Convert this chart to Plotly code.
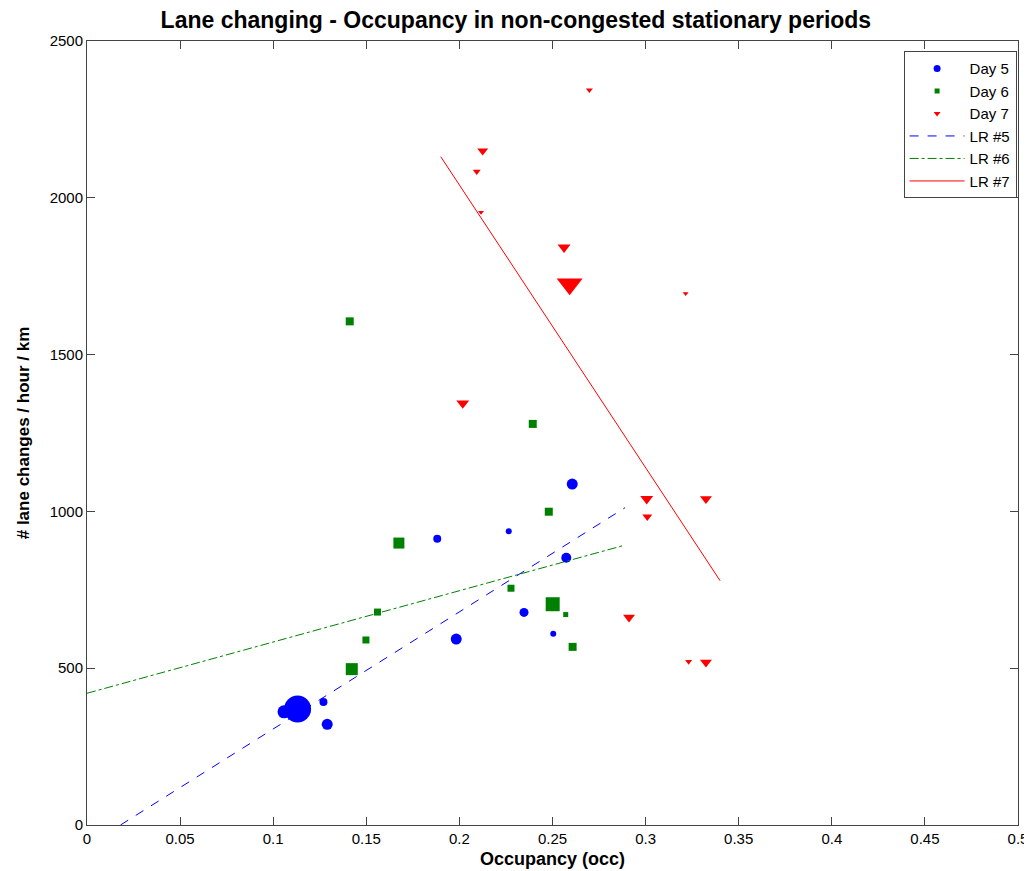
import plotly.graph_objects as go

# ---- data ----
day5_x = [0.1131, 0.1058, 0.127, 0.129, 0.2606, 0.2265, 0.1881, 0.2574, 0.2347, 0.2504, 0.1983]
day5_y = [370, 361, 392, 321, 1087, 937, 913, 852, 678, 610, 593]
day5_w = [26, 12, 7, 10, 10, 5, 7, 9, 8, 5, 10]

day6_x = [0.1422, 0.1498, 0.248, 0.2277, 0.2501, 0.2571, 0.2608, 0.1411, 0.2394, 0.1675, 0.156]
day6_y = [497, 590, 999, 755, 704, 671, 568, 1606, 1279, 899, 679]
day6_w = [11, 6, 7, 6, 13, 4, 7, 7, 7, 10, 6]

day7_x = [0.2698, 0.2125, 0.2093, 0.2116, 0.2562, 0.2592, 0.3215, 0.2018, 0.3006, 0.3324, 0.3009, 0.2911, 0.3231, 0.3324]
day7_y = [2344, 2150, 2084, 1954, 1842, 1725, 1695, 1345, 1040, 1040, 983, 662, 521, 519]
day7_w = [5, 9, 6, 4, 11, 24, 4, 11, 11, 10, 8, 10, 5, 10]

lr5_x = [0.018, 0.289]
lr5_y = [0, 1012]
lr6_x = [0.0, 0.288]
lr6_y = [420, 891]
lr7_x = [0.19, 0.34]
lr7_y = [2131, 779]

x_ticks = [0, 0.05, 0.1, 0.15, 0.2, 0.25, 0.3, 0.35, 0.4, 0.45, 0.5]
x_tick_labels = ["0", "0.05", "0.1", "0.15", "0.2", "0.25", "0.3", "0.35", "0.4", "0.45", "0.5"]
y_ticks = [0, 500, 1000, 1500, 2000, 2500]
y_tick_labels = ["0", "500", "1000", "1500", "2000", "2500"]

BLUE = "#0000FF"
GREEN = "#008000"
RED = "#FF0000"
FONT = "Liberation Sans, Arial, sans-serif"

fig = go.Figure()

no_edge = dict(width=0)

# actual marker traces (hidden from legend)
fig.add_trace(go.Scatter(x=day5_x, y=day5_y, mode="markers", showlegend=False,
                         marker=dict(symbol="circle", color=BLUE, opacity=1, line=no_edge,
                                     size=[w + 1 for w in day5_w])))
fig.add_trace(go.Scatter(x=day6_x, y=day6_y, mode="markers", showlegend=False,
                         marker=dict(symbol="square", color=GREEN, opacity=1, line=no_edge,
                                     size=[w + 1 for w in day6_w])))
fig.add_trace(go.Scatter(x=day7_x, y=day7_y, mode="markers", showlegend=False,
                         marker=dict(symbol="triangle-down", color=RED, opacity=1, line=no_edge,
                                     size=[(w + 2) / 1.155 for w in day7_w])))

# legend entries with small constant markers
fig.add_trace(go.Scatter(x=[None], y=[None], mode="markers", name="Day 5",
                         marker=dict(symbol="circle", color=BLUE, size=7, line=no_edge)))
fig.add_trace(go.Scatter(x=[None], y=[None], mode="markers", name="Day 6",
                         marker=dict(symbol="square", color=GREEN, size=5, line=no_edge)))
fig.add_trace(go.Scatter(x=[None], y=[None], mode="markers", name="Day 7",
                         marker=dict(symbol="triangle-down", color=RED, size=6, line=no_edge)))

fig.add_trace(go.Scatter(x=lr5_x, y=lr5_y, mode="lines", name="LR #5",
                         line=dict(color=BLUE, width=1, dash="dash")))
fig.add_trace(go.Scatter(x=lr6_x, y=lr6_y, mode="lines", name="LR #6",
                         line=dict(color=GREEN, width=1, dash="dashdot")))
fig.add_trace(go.Scatter(x=lr7_x, y=lr7_y, mode="lines", name="LR #7",
                         line=dict(color=RED, width=1, dash="solid")))

axis_common = dict(showgrid=False, zeroline=False, showline=True, linecolor="#444444",
                   linewidth=1, mirror="ticks", ticks="inside", ticklen=8,
                   tickcolor="#444444", automargin=False,
                   tickfont=dict(family=FONT, size=15, color="black"))

# the page body adds an 8px offset, so the figure is 1024x863
fig.update_layout(
    width=1024, height=863,
    margin=dict(l=79, r=14, t=33, b=46),
    paper_bgcolor="white", plot_bgcolor="white",
    title=dict(text="<b>Lane changing - Occupancy in non-congested stationary periods</b>",
               x=0.496, xanchor="center", y=0.986, yanchor="middle",
               font=dict(family=FONT, size=23, color="black")),
    xaxis=dict(range=[0, 0.5], tickvals=x_ticks, ticktext=x_tick_labels,
               title=dict(text="<b>Occupancy (occ)</b>", standoff=6,
                          font=dict(family=FONT, size=18, color="black")),
               **axis_common),
    yaxis=dict(range=[0, 2500], tickvals=y_ticks, ticktext=y_tick_labels,
               title=dict(text="<b># lane changes / hour / km</b>", standoff=15,
                          font=dict(family=FONT, size=17, color="black")),
               **axis_common),
    legend=dict(x=0.9985, y=0.987, xanchor="right", yanchor="top",
                bgcolor="white", bordercolor="#444444", borderwidth=1,
                font=dict(family=FONT, size=15, color="black"),
                tracegroupgap=0, itemwidth=55),
)

fig.write_html("out.html")
